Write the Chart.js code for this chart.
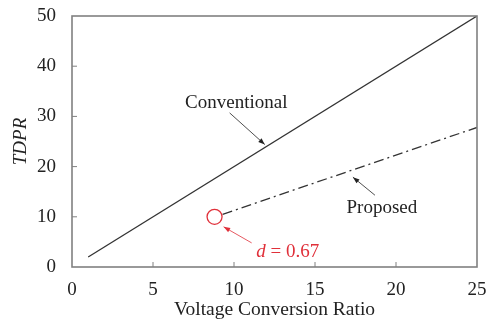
<!DOCTYPE html>
<html>
<head>
<meta charset="utf-8">
<script src="https://cdn.jsdelivr.net/npm/chart.js@4/dist/chart.umd.min.js"></script>
<style>
  html, body { margin: 0; padding: 0; background: #fff; }
  #wrap { width: 488px; height: 322px; }
</style>
</head>
<body>
<div id="wrap"><canvas id="myChart" width="488" height="322"></canvas></div>
<script>
// data
var convX = [1, 25]
var convY = [2, 50]
var propX = [9.3, 25]
var propY = [10.5, 27.8]
var optX = [8.8]
var optY = [10]
var xTicks = [0, 5, 10, 15, 20, 25]
var yTicks = [0, 10, 20, 30, 40, 50]

function pts(xs, ys) {
  return xs.map(function(x, i) { return { x: x, y: ys[i] } })
}

var serif = "'Liberation Serif', 'DejaVu Serif', serif"

// text + arrow labels, positions in data units
var notes = [
  { text: "Conventional", color: "#222", tx: 10.14, ty: 32.7, from: [9.73, 30.7], to: [11.9, 24.4] },
  { text: "Proposed", color: "#222", tx: 19.13, ty: 11.75, from: [18.7, 14.3], to: [17.34, 17.9] },
  { text: "d", color: "#e0303a", tx: 13.32, ty: 3.0, from: [11.09, 4.8], to: [9.36, 8.0] }
]

function arrow(ctx, x1, y1, x2, y2, color) {
  ctx.save()
  ctx.strokeStyle = color
  ctx.fillStyle = color
  ctx.lineWidth = 0.8
  ctx.beginPath()
  ctx.moveTo(x1, y1)
  ctx.lineTo(x2, y2)
  ctx.stroke()
  var a = Math.atan2(y2 - y1, x2 - x1)
  ctx.beginPath()
  ctx.moveTo(x2, y2)
  ctx.lineTo(x2 - 7 * Math.cos(a - 0.35), y2 - 7 * Math.sin(a - 0.35))
  ctx.lineTo(x2 - 7 * Math.cos(a + 0.35), y2 - 7 * Math.sin(a + 0.35))
  ctx.closePath()
  ctx.fill()
  ctx.restore()
}

var framePlugin = {
  id: 'frame',
  afterDatasetsDraw: function(chart) {
    var ctx = chart.ctx
    var a = chart.chartArea
    var xs = chart.scales.x
    var ys = chart.scales.y
    ctx.save()
    ctx.strokeStyle = "#808080"
    ctx.lineWidth = 1.6
    ctx.strokeRect(a.left, a.top, a.right - a.left, a.bottom - a.top)
    // inward ticks
    ctx.lineWidth = 1
    ctx.beginPath()
    xTicks.slice(1, -1).forEach(function(v) {
      var px = xs.getPixelForValue(v)
      ctx.moveTo(px, a.bottom)
      ctx.lineTo(px, a.bottom - 5)
    })
    yTicks.slice(1, -1).forEach(function(v) {
      var py = ys.getPixelForValue(v)
      ctx.moveTo(a.left, py)
      ctx.lineTo(a.left + 5, py)
    })
    ctx.stroke()
    ctx.restore()

    notes.forEach(function(n) {
      var tx = xs.getPixelForValue(n.tx)
      var ty = ys.getPixelForValue(n.ty)
      ctx.save()
      ctx.fillStyle = n.color
      ctx.textBaseline = "middle"
      if (n.text == "d") {
        ctx.font = "italic 19px " + serif
        var w1 = ctx.measureText("d").width
        ctx.font = "19px " + serif
        var rest = " = 0.67"
        var w2 = ctx.measureText(rest).width
        var left = tx - (w1 + w2) / 2
        ctx.textAlign = "left"
        ctx.font = "italic 19px " + serif
        ctx.fillText("d", left, ty)
        ctx.font = "19px " + serif
        ctx.fillText(rest, left + w1, ty)
      } else {
        ctx.font = "19px " + serif
        ctx.textAlign = "center"
        ctx.fillText(n.text, tx, ty)
      }
      ctx.restore()
      arrow(ctx, xs.getPixelForValue(n.from[0]), ys.getPixelForValue(n.from[1]),
        xs.getPixelForValue(n.to[0]), ys.getPixelForValue(n.to[1]), n.color)
    })
  }
}

var ctx = document.getElementById('myChart').getContext('2d')
var chart = new Chart(ctx, {
  type: 'scatter',
  data: {
    datasets: [{
      label: "Conventional",
      data: pts(convX, convY),
      showLine: true,
      borderColor: '#333',
      borderWidth: 1.3,
      pointRadius: 0
    }, {
      label: "Proposed",
      data: pts(propX, propY),
      showLine: true,
      borderColor: '#333',
      borderWidth: 1.3,
      borderDash: [10, 4, 2, 4],
      pointRadius: 0
    }, {
      label: "d = 0.67",
      data: pts(optX, optY),
      showLine: false,
      pointRadius: 7.5,
      pointBorderWidth: 1.3,
      pointBorderColor: '#e0303a',
      pointBackgroundColor: 'rgba(0,0,0,0)'
    }]
  },
  options: {
    responsive: false,
    animation: false,
    layout: { padding: { left: 0, right: 11, top: 16, bottom: 0 } },
    plugins: { legend: { display: false }, tooltip: { enabled: false } },
    scales: {
      x: {
        type: 'linear',
        min: 0, max: 25,
        afterFit: function(s) { s.height = 55; s.paddingLeft = 0; s.paddingRight = 0 },
        afterBuildTicks: function(s) { s.ticks = xTicks.map(function(v) { return { value: v } }) },
        grid: { display: false, drawTicks: false },
        border: { display: false },
        ticks: { color: '#222', padding: 12, maxRotation: 0, font: { family: serif, size: 19 } },
        title: { display: true, text: 'Voltage Conversion Ratio', color: '#222', padding: { top: 0, bottom: 0 }, font: { family: serif, size: 19.5 } }
      },
      y: {
        min: 0, max: 50,
        afterFit: function(s) { s.width = 72; s.paddingTop = 0; s.paddingBottom = 0 },
        afterBuildTicks: function(s) { s.ticks = yTicks.map(function(v) { return { value: v } }) },
        grid: { display: false, drawTicks: false },
        border: { display: false },
        ticks: { color: '#222', padding: 16, font: { family: serif, size: 19 } },
        title: { display: true, text: 'TDPR', color: '#222', padding: { top: 10, bottom: 0 }, font: { family: serif, size: 19, style: 'italic' } }
      }
    }
  },
  plugins: [framePlugin]
})
</script>
</body>
</html>
